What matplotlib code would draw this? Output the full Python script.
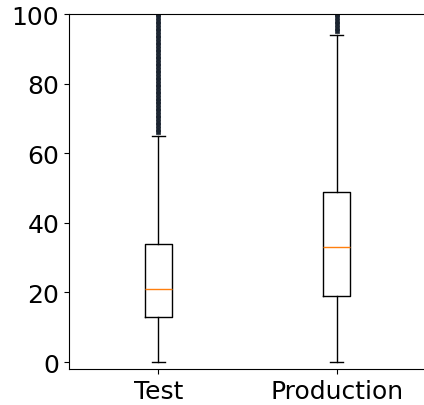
import matplotlib
matplotlib.use("Agg")
import matplotlib.pyplot as plt

# box statistics
labels = ["Test", "Production"]
whislo = [0, 0]
q1 = [13, 19]
med = [21, 33]
q3 = [34, 49]
whishi = [65, 94]
# outliers form a dense column above the upper whisker
fliers_test = [66, 67, 68, 69, 70, 71, 72, 73, 74, 75, 76, 77, 78, 79, 80,
               81, 82, 83, 84, 85, 86, 87, 88, 89, 90, 91, 92, 93, 94, 95,
               96, 97, 98, 99, 100]
fliers_prod = [95, 96, 97, 98, 99, 100]
fliers = [fliers_test, fliers_prod]

stats = []
for i in range(len(labels)):
    stats.append(dict(label=labels[i], whislo=whislo[i], q1=q1[i], med=med[i],
                      q3=q3[i], whishi=whishi[i], fliers=fliers[i]))

fig = plt.figure(figsize=(4.24, 4.06), dpi=100)
ax = fig.add_axes([69 / 424, 36 / 406, 357 / 424, 355 / 406])

ax.bxp(stats, widths=0.15,
       flierprops=dict(marker='s', markersize=3, markeredgewidth=0.5,
                       markerfacecolor='#1b2430', markeredgecolor='#1b2430'))

ax.set_ylim(-2, 100)
ax.set_xlim(0.5, 2.5)
ax.set_yticks([0, 20, 40, 60, 80, 100])
ax.tick_params(labelsize=18)

fig.savefig("out.png", dpi=100)
